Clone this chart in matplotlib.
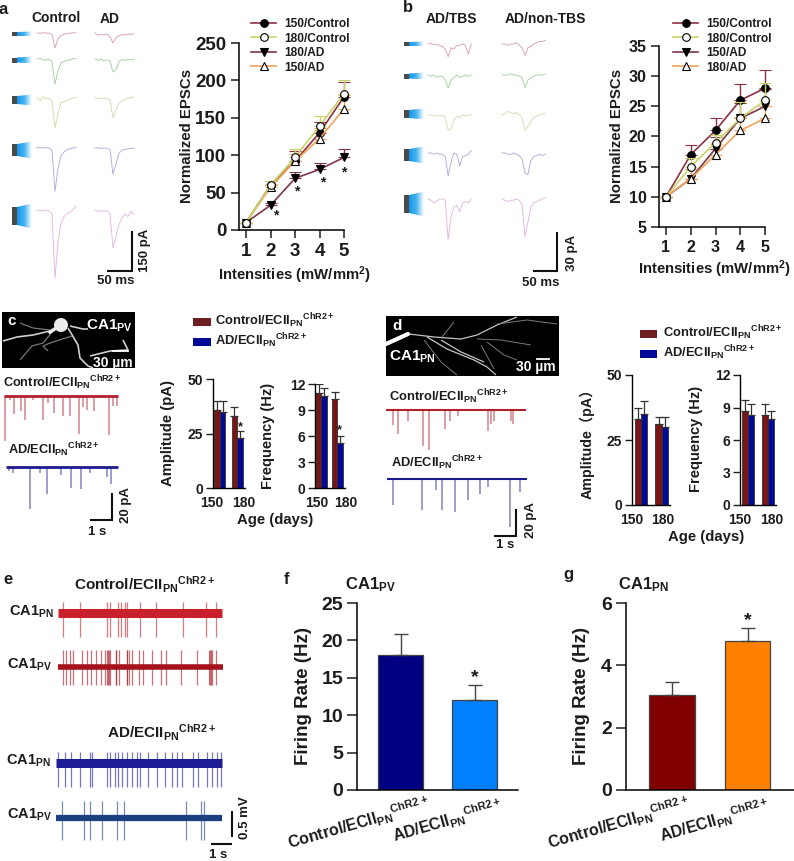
import numpy as np
import matplotlib
matplotlib.use("Agg")
import matplotlib.pyplot as plt
from matplotlib.collections import LineCollection
from matplotlib.colors import LinearSegmentedColormap
from matplotlib.lines import Line2D
from matplotlib.patches import Polygon, Rectangle
from matplotlib.transforms import Affine2D

plt.rcParams['font.family'] = ['Liberation Sans', 'DejaVu Sans']
plt.rcParams['font.weight'] = 'bold'
plt.rcParams['mathtext.fontset'] = 'custom'
plt.rcParams['mathtext.bf'] = 'Liberation Sans:bold'
plt.rcParams['mathtext.rm'] = 'Liberation Sans:bold'
plt.rcParams['mathtext.default'] = 'bf'

W, H = 794, 861
TXT = '#1c1c1c'

# === Line plots (a, b) ===
intensities = [1, 2, 3, 4, 5]
a_labels = ['150/Control', '180/Control', '180/AD', '150/AD']
a_150_control = [10, 60, 92, 130, 178]
a_150_control_err = [0, 5, 13, 15, 20]
a_180_control = [10, 60, 97, 139, 182]
a_180_control_err = [0, 6, 11, 13, 19]
a_180_ad = [10, 33, 69, 81, 97]
a_180_ad_err = [0, 3, 8, 9, 11]
a_150_ad = [10, 57, 92, 122, 162]
a_150_ad_err = [0, 5, 10, 14, 19]

b_labels = ['150/Control', '180/Control', '150/AD', '180/AD']
b_150_control = [10, 17, 21, 26, 28]
b_150_control_err = [0, 1.6, 2.1, 2.7, 3.1]
b_180_control = [10, 15, 19, 23, 26]
b_180_control_err = [0, 1.5, 1.2, 2.8, 2.9]
b_150_ad = [10, 13, 18, 23, 25]
b_150_ad_err = [0, 1.6, 1.9, 2.6, 2.8]
b_180_ad = [10, 13, 17, 21, 23]
b_180_ad_err = [0, 1.6, 1.8, 2.2, 2.1]

# === Bar plots (c, d, f, g) ===
ages = ['150', '180']
c_amp_control = [36, 33]
c_amp_control_err = [4, 4]
c_amp_ad = [35, 23]
c_amp_ad_err = [5, 3]
c_freq_control = [11, 10.3]
c_freq_control_err = [1, 0.8]
c_freq_ad = [10.6, 5.2]
c_freq_ad_err = [0.9, 0.8]

d_amp_control = [33, 31]
d_amp_control_err = [4.5, 3]
d_amp_ad = [35, 30]
d_amp_ad_err = [5, 4]
d_freq_control = [8.7, 8.3]
d_freq_control_err = [1, 1]
d_freq_ad = [8.3, 7.9]
d_freq_ad_err = [1, 0.8]

f_rate = [18.1, 12.0]
f_rate_err = [2.7, 2.1]
g_rate = [3.05, 4.78]
g_rate_err = [0.4, 0.42]

# === EPSC traces in pA, sampled every 6 ms ===
a_ctrl_1 = [0, -1, 1, 0, -1, -6, -57, -22, -10, -5, -2, -1, 1, 1]
a_ctrl_2 = [0, 3, -3, -4, -1, -10, -95, -45, -15, -10, -5, -4, 1, 2]
a_ctrl_3 = [0, -10, 4, -2, -1, -12, -114, -60, -18, -14, -8, -4, 0, 4]
a_ctrl_4 = [0, 2, 0, 1, 0, -8, -165, -80, -30, -15, -6, -3, 0, 2]
a_ctrl_5 = [0, -4, -2, 0, -3, -15, -260, -120, -50, -25, -15, -8, 0, 15]
a_ad_1 = [0, -8, -5, -8, -4, -15, -38, -18, -10, -6, -8, -4, -6, -2]
a_ad_2 = [0, -5, 0, -8, -3, -8, -50, -40, -10, -3, -5, -2, -3, 0]
a_ad_3 = [0, -2, 0, -1, -3, -8, -76, -45, -20, -10, -6, -2, 2, 4]
a_ad_4 = [0, 1, -2, 0, -1, -6, -100, -60, -20, -8, -6, -3, -2, 0]
a_ad_5 = [0, -6, -2, -5, -3, -15, -145, -100, -55, -30, -15, -25, -5, -15]

b_tbs_1 = [0, 0.5, -0.5, -0.5, -1, -2, -4, -10, -3, -4, -1, -1, 0, -1, -8, 0]
b_tbs_2 = [0, -1, 0, -2, -1, -1, -4, -10, -4, -2, 0, -2, -1, 0, -1, 0]
b_tbs_3 = [0, 0, -1, 0, -1, 0, -2, -12, -11, -4, -1, -2, 0, -1, 0, 0]
b_tbs_4 = [0, 0, -1, 0, -1, -1, -3, -18, -7, 0, -1, -10, -3, -2, -1, 2]
b_tbs_5 = [0, -1, -3, -2, 0, 0, -1, -32, -14, -6, -5, -10, -3, -2, -3, 0]
b_non_1 = [0, 0, -1, 0, 0, 1, -1, -3, -9, -3, -2, 0, 1, 2, 2, 3]
b_non_2 = [0, 0, 0, 1, 0, 0, -1, -2, -10, -4, -2, -1, 0, 0, 0, 1]
b_non_3 = [0, 1, 3, 2, 1, 2, 0, -2, -12, -9, -5, -2, -1, 0, 1, 1]
b_non_4 = [0, 0, -1, -1, 0, -1, -2, -5, -16, -17, -6, -3, -2, -1, -2, -1]
b_non_5 = [0, -1, -2, -1, -1, 0, -1, -5, -30, -18, -7, -3, -2, -1, 0, 1]

# === Spontaneous events: time (s), depth (pA) ===
c_ctrl_t = [0.05, 0.3, 0.48, 0.81, 1.0, 1.4, 1.84, 2.1, 2.4, 2.8, 3.15, 3.57, 3.75, 3.95, 4.3, 5.0, 5.2, 5.4]
c_ctrl_d = [32, 3, 13, 11, 17, 3, 17, 5, 12, 14, 14, 27, 8, 10, 11, 28, 7, 7]
c_ad_t = [0.15, 0.35, 1.15, 1.6, 1.97, 2.6, 3.1, 3.57, 4.0, 4.8, 5.0]
c_ad_d = [3, 4, 30, 4, 19, 6, 15, 16, 4, 7, 12]
d_ctrl_t = [0.32, 0.59, 1.06, 1.75, 2.03, 2.81, 3.05, 3.44, 4.87, 5.0, 5.16, 5.94, 6.03]
d_ctrl_d = [12, 19, 9, 29, 32, 15, 9, 5, 17, 11, 9, 9, 11]
d_ad_t = [0.29, 1.67, 2.33, 2.62, 3.24, 3.84, 4.41, 4.79, 5.87, 6.35]
d_ad_d = [21, 25, 9, 25, 26, 17, 12, 6, 38, 10]

# === Extracellular spikes: time (s) ===
e_ctrl_pn_t = [0.24, 1.03, 2.33, 2.49, 2.86, 3.0, 3.17, 3.3, 3.89, 4.68, 5.95, 7.06, 7.54]
e_ctrl_pv_t = [0.25, 0.4, 0.56, 0.71, 1.13, 1.37, 1.56, 1.79, 2.03, 2.22, 2.35, 2.38, 2.43, 2.47, 2.75, 2.78,
               2.9, 3.27, 3.3, 3.38, 3.54, 3.86, 4.06, 4.49, 4.89, 5.13, 5.87, 6.6, 7.19, 7.25, 7.3, 7.33, 7.51]
e_ad_pn_t = [0.11, 0.43, 0.7, 1.14, 1.62, 1.7, 2.41, 2.57, 2.81, 2.97, 3.13, 3.37, 3.6, 3.84,
             4.0, 4.4, 4.79, 5.19, 5.51, 5.75, 5.98, 6.54, 6.78, 7.17, 7.41, 7.65, 7.84]
e_ad_pv_t = [0.27, 1.33, 1.62, 2.17, 2.92, 3.24, 6.19, 6.9, 7.05]

# === Blue light wedges ===
wedge_half = [2, 2.5, 4, 6, 9]
wedge_flare = [2.5, 3.5, 5.5, 8.5, 12.5]

row_colors = ['#d9a0ac', '#a6cfa2', '#d3dcae', '#aeaadd', '#e2b8e2']
RED_BAR = '#7b1414'
BLUE_BAR = '#000a96'

fig = plt.figure(figsize=(W / 100, H / 100), dpi=100, facecolor='white')
deco = fig.add_axes([0, 0, 1, 1], zorder=5)
deco.set_xlim(0, W)
deco.set_ylim(H, 0)
deco.axis('off')
deco.patch.set_alpha(0)
wedge_cmap = LinearSegmentedColormap.from_list('light', ['#1595ea', '#49b4f0', '#ffffff'])


def px_axes(left, top, right, bottom):
    return fig.add_axes([left / W, 1 - bottom / H, (right - left) / W, (bottom - top) / H])


def label(x, y, s, size=10, rotation=0, ha='center', va='center', color=TXT, family=None):
    t = deco.text(x, y, s, fontsize=size, rotation=rotation, ha=ha, va=va, color=color,
                  fontweight='bold', rotation_mode='anchor' if rotation and ha == 'right' else 'default')
    if family:
        t.set_family(family)


def scale_bar(x0, x1, y0, y1, gap=0):
    deco.plot([x0, x1], [y1, y1], color='#111111', lw=1.5, solid_capstyle='butt')
    deco.plot([x1, x1], [y0, y1 - gap], color='#111111', lw=1.5, solid_capstyle='projecting')


def style_axis(ax, lw=1.1):
    ax.spines['top'].set_visible(False)
    ax.spines['right'].set_visible(False)
    ax.spines['left'].set_linewidth(lw)
    ax.spines['bottom'].set_linewidth(lw)
    ax.patch.set_alpha(0)


def draw_epsc(values, x0, y0, px_per_ms, px_per_pa, color):
    t = np.arange(len(values)) * 6
    tr = Affine2D().scale(px_per_ms, -px_per_pa).translate(x0, y0) + deco.transData
    deco.plot(t, values, color=color, lw=0.65, transform=tr, solid_joinstyle='round')


def draw_wedge(x, y, half, flare, block):
    deco.add_patch(Rectangle((x, y - half), block - x, 2 * half, color='#4a4a4a', lw=0))
    grad = np.linspace(0, 1, 64).reshape(1, -1)
    im = deco.imshow(grad, extent=(block, block + 15, y + flare, y - flare), aspect='auto',
                     cmap=wedge_cmap, zorder=2)
    clip = Polygon([(block, y - half), (block + 15, y - flare), (block + 15, y + flare), (block, y + half)],
                   transform=deco.transData, fc='none', ec='none')
    deco.add_patch(clip)
    im.set_clip_path(clip)


def line_panel(ax, series, labels, yticks, ylim, legend_xy, tick_size):
    for values, err, color, marker, face in series:
        ax.errorbar(intensities, values, yerr=[np.zeros(5), err], color=color, lw=1.2, capsize=4,
                    capthick=1.0, elinewidth=1.0, marker=marker, ms=5.5, mfc=face, mec='black',
                    mew=0.8, clip_on=False, zorder=5 if (marker == 'o' and face == 'white') else 3)
    ax.set_ylim(*ylim)
    ax.set_yticks(yticks)
    ax.set_xticks(intensities)
    ax.tick_params(axis='both', labelsize=tick_size, width=1.1, length=6, pad=3, colors=TXT)
    style_axis(ax)
    handles = [Line2D([], [], color=s[2], marker=s[3], mfc=s[4], mec='black', mew=0.8, ms=5.5, lw=1.2)
               for s in series]
    fig.legend(handles, labels, loc='upper left', frameon=False, fontsize=8.6, handlelength=2.1,
               handletextpad=0.67, labelspacing=0.21, borderpad=0, borderaxespad=0,
               bbox_to_anchor=(legend_xy[0] / W, 1 - legend_xy[1] / H), labelcolor=TXT)


def pair_bars(ax, ctrl, ctrl_err, ad, ad_err, ymax, yticks, width, xlim, label_pos):
    x = np.arange(2)
    for off, vals, err, col in [(-width / 2, ctrl, ctrl_err, RED_BAR), (width / 2, ad, ad_err, BLUE_BAR)]:
        ax.bar(x + off, vals, width, color=col, edgecolor='#333333', lw=0.6)
        ax.errorbar(x + off, vals, yerr=[np.zeros(2), err], fmt='none', ecolor='#333333',
                    elinewidth=0.9, capsize=3, capthick=0.9)
    ax.set_xlim(*xlim)
    ax.set_ylim(0, ymax)
    ax.set_yticks(yticks)
    ax.set_xticks([])
    for pos, age in zip(label_pos, ages):
        ax.annotate(age, xy=(pos, 0), xytext=(0, -5.5), textcoords='offset points', ha='center',
                    va='top', fontsize=10, color=TXT, annotation_clip=False)
    ax.tick_params(axis='y', labelsize=10, width=1.0, length=5, pad=2, colors=TXT)
    style_axis(ax, 1.0)


def single_bars(ax, vals, err, colors, ymax, yticks, xlim):
    ax.bar([0, 1], vals, 0.6, color=colors, edgecolor='#444444', lw=0.9)
    ax.errorbar([0, 1], vals, yerr=[np.zeros(2), err], fmt='none', ecolor='#444444',
                elinewidth=1.0, capsize=5, capthick=1.0)
    ax.set_xlim(*xlim)
    ax.set_ylim(0, ymax)
    ax.set_yticks(yticks)
    ax.set_xticks([])
    ax.tick_params(axis='y', labelsize=14, width=1.1, length=7, pad=3, colors=TXT)
    style_axis(ax)


def draw_events(times, depths, x0, y0, px_per_s, px_per_pa, color, length, lw_base=2.0, alpha=0.55):
    tr = Affine2D().scale(px_per_s, -px_per_pa).translate(x0, y0) + deco.transData
    deco.vlines(times, np.negative(depths), 0, color=color, lw=1.1, alpha=alpha, transform=tr)
    deco.plot([0, length], [0, 0], color=color, lw=lw_base, transform=tr, solid_capstyle='butt')


def draw_spikes(times, up, down, x0, y0, length, color, alpha=0.6, base=3.2):
    tr = Affine2D().scale(21, -1).translate(x0, y0) + deco.transData
    deco.vlines(times, -down, up, color=color, lw=0.9, alpha=alpha, transform=tr)
    deco.plot([0, length], [0, 0], color=color, lw=base, transform=tr, solid_capstyle='butt')


# --- panel a ---
label(3, 9, 'a', 12)
label(56, 18, 'Control', 10)
label(110, 19, 'AD', 10)
a_rows_y = [33, 59, 98, 148, 210]
a_wedge_y = [34, 60, 100, 150, 216]
a_ctrl = [a_ctrl_1, a_ctrl_2, a_ctrl_3, a_ctrl_4, a_ctrl_5]
a_ad = [a_ad_1, a_ad_2, a_ad_3, a_ad_4, a_ad_5]
for i, y in enumerate(a_rows_y):
    draw_epsc(a_ctrl[i], 37, y, 0.5, 0.262, row_colors[i])
    draw_epsc(a_ad[i], 95, y, 0.5, 0.262, row_colors[i])
    draw_wedge(12, a_wedge_y[i], wedge_half[i], wedge_flare[i], 17)
scale_bar(107, 132, 232, 271)
label(116, 281, '50 ms', 9.5)
label(145, 250, '150 pA', 9.5, rotation=90)

ax_a = px_axes(239, 43, 344, 230)
line_panel(ax_a, [
    (a_150_control, a_150_control_err, '#8c3040', 'o', 'black'),
    (a_180_control, a_180_control_err, '#c9d36a', 'o', 'white'),
    (a_180_ad, a_180_ad_err, '#7d3644', 'v', 'black'),
    (a_150_ad, a_150_ad_err, '#f0a35a', '^', 'white'),
], a_labels, [0, 50, 100, 150, 200, 250], (0, 250), (251, 18), 13.5)
ax_a.set_xlim(1 - 7 / 24.5, 5)
for xv, yv in zip([2.2, 3.07, 4.13, 5], [20, 52, 63, 77]):
    ax_a.text(xv, yv, '*', ha='center', va='center', fontsize=10, color=TXT)
label(187, 136, 'Normalized EPSCs', 10.8, rotation=90)
label(295, 275, 'Intensities (mW/mm$^{2}$)', 10.7)

# --- panel b ---
label(408, 8, 'b', 12)
label(451, 19, 'AD/TBS', 10)
label(545, 19, 'AD/non-TBS', 10)
b_rows_y = [44, 75, 115, 153, 199]
b_wedge_y = [44, 76, 114, 155, 204]
b_tbs = [b_tbs_1, b_tbs_2, b_tbs_3, b_tbs_4, b_tbs_5]
b_non = [b_non_1, b_non_2, b_non_3, b_non_4, b_non_5]
for i, y in enumerate(b_rows_y):
    draw_epsc(b_tbs[i], 428, y, 0.48, 1.27, row_colors[i])
    draw_epsc(b_non[i], 502, y, 0.48, 1.27, row_colors[i])
    draw_wedge(404, b_wedge_y[i], wedge_half[i], wedge_flare[i], 409)
scale_bar(533, 557, 233, 271)
label(541, 283, '50 ms', 9.5)
label(572, 253, '30 pA', 9.5, rotation=90)

ax_b = px_axes(659, 46, 765, 227)
line_panel(ax_b, [
    (b_150_control, b_150_control_err, '#8c3040', 'o', 'black'),
    (b_180_control, b_180_control_err, '#c9d36a', 'o', 'white'),
    (b_150_ad, b_150_ad_err, '#7d3644', 'v', 'black'),
    (b_180_ad, b_180_ad_err, '#f0a35a', '^', 'white'),
], b_labels, [5, 10, 15, 20, 25, 30, 35], (5, 35), (673, 18), 11.5)
ax_b.set_xlim(1 - 7 / 24.75, 5)
label(617, 136, 'Normalized EPSCs', 10.8, rotation=90)
label(715, 269, 'Intensities (mW/mm$^{2}$)', 10.7)

# --- panel c ---
deco.add_patch(Rectangle((2, 312), 133, 56, color='black', lw=0))
c_dendrites = [
    [(50, 331), (33, 335), (17, 337), (3, 341)],
    [(68, 328), (78, 345), (80, 358), (88, 366), (93, 368)],
    [(70, 326), (83, 329), (88, 329)],
    [(90, 356), (110, 351), (128, 350), (123, 340)],
]
c_dim_dendrites = [
    [(53, 331), (43, 343), (32, 346), (20, 360)],
    [(72, 336), (50, 343), (43, 346), (48, 351)],
    [(50, 330), (33, 328), (20, 323)],
]
deco.add_collection(LineCollection(c_dendrites, colors='#cfcfcf', linewidths=1.2))
deco.add_collection(LineCollection(c_dim_dendrites, colors='#777777', linewidths=0.9))
deco.add_patch(plt.Circle((61, 325), 7, color='#ececec', lw=0))
deco.plot([50, 58], [332, 327], color='#ececec', lw=2.5)
label(7, 321, 'c', 11, color='white', ha='left')
label(109, 326, 'CA1$_{PV}$', 11, color='white')
label(113, 363, '30 \u00b5m', 10, color='white')
deco.plot([113, 128], [351, 351], color='white', lw=1.3)
label(3, 383, 'Control/ECII$_{PN}{}^{ChR2+}$', 9.2, ha='left')
label(8, 450, 'AD/ECII$_{PN}{}^{ChR2+}$', 9.2, ha='left')
draw_events(c_ctrl_t, c_ctrl_d, 4, 396, 21, 1.4, '#b2202e', 5.45)
draw_events(c_ad_t, c_ad_d, 6, 467, 21, 1.4, '#1b1b8f', 5.35)
scale_bar(90, 112, 494, 520)
label(97, 532, '1 s', 9.5)
label(126, 505, '20 pA', 9.5, rotation=90)
deco.add_patch(Rectangle((193, 318), 18, 8, color='#6e1f22', lw=0))
deco.add_patch(Rectangle((193, 338), 18, 8, color=BLUE_BAR, lw=0))
label(215, 321, 'Control/ECII$_{PN}{}^{ChR2+}$', 9.3, ha='left')
label(215, 341, 'AD/ECII$_{PN}{}^{ChR2+}$', 9.3, ha='left')

ax_c1 = px_axes(213, 379, 245, 488)
pair_bars(ax_c1, c_amp_control, c_amp_control_err, c_amp_ad, c_amp_ad_err, 50, [0, 25, 50], 0.32,
          (-0.4, 1.45), [-0.46, 1.39])
ax_c1.text(1.16, 28, '*', ha='center', va='center', fontsize=9, color=TXT)
ax_c2 = px_axes(315, 384, 345, 488)
pair_bars(ax_c2, c_freq_control, c_freq_control_err, c_freq_ad, c_freq_ad_err, 12, [0, 3, 6, 9, 12], 0.33,
          (-0.39, 1.48), [-0.27, 1.54])
ax_c2.text(1.16, 6.7, '*', ha='center', va='center', fontsize=9, color=TXT)
label(168, 433, 'Amplitude (pA)', 10.7, rotation=90)
label(268, 436, 'Frequency (Hz)', 10.5, rotation=90)
label(275, 520, 'Age (days)', 10.7)

# --- panel d ---
deco.add_patch(Rectangle((386, 316), 173, 60, color='black', lw=0))
d_dendrites = [
    [(409, 334), (434, 337), (461, 339), (477, 335), (497, 325), (517, 317)],
    [(427, 337), (447, 349), (474, 360), (487, 367), (496, 375)],
    [(441, 340), (461, 352), (484, 362)],
]
d_dim_dendrites = [
    [(442, 337), (454, 322)],
    [(477, 339), (501, 340), (531, 345)],
    [(487, 342), (504, 355), (517, 360)],
    [(424, 340), (441, 362), (457, 375)],
    [(497, 324), (527, 320), (557, 324)],
    [(481, 345), (494, 369)],
]
deco.add_collection(LineCollection(d_dendrites, colors='#c4c4c4', linewidths=0.9))
deco.add_collection(LineCollection(d_dim_dendrites, colors='#7a7a7a', linewidths=0.7))
deco.plot([386, 408], [344, 334], color='white', lw=3, solid_capstyle='round')
label(392, 326, 'd', 11, color='white', ha='left')
label(412, 357, 'CA1$_{PN}$', 11, color='white')
label(536, 367, '30 \u00b5m', 10, color='white')
deco.plot([537, 549], [359, 359], color='white', lw=1.3)
label(389, 397, 'Control/ECII$_{PN}{}^{ChR2+}$', 9.3, ha='left')
label(391, 463, 'AD/ECII$_{PN}{}^{ChR2+}$', 9.3, ha='left')
draw_events(d_ctrl_t, d_ctrl_d, 386, 410, 21, 1.25, '#b2202e', 6.65, lw_base=1.5)
draw_events(d_ad_t, d_ad_d, 387, 479, 21, 1.25, '#1b1b8f', 6.65, lw_base=1.5)
scale_bar(494, 516, 510, 536)
label(505, 545, '1 s', 9.5)
label(531, 520, '20 pA', 9.5, rotation=90)
deco.add_patch(Rectangle((640, 330), 17, 8, color='#6e1f22', lw=0))
deco.add_patch(Rectangle((640, 350), 17, 8, color=BLUE_BAR, lw=0))
label(663, 333, 'Control/ECII$_{PN}{}^{ChR2+}$', 9.3, ha='left')
label(663, 353, 'AD/ECII$_{PN}{}^{ChR2+}$', 9.3, ha='left')

ax_d1 = px_axes(632, 375, 670, 505)
pair_bars(ax_d1, d_amp_control, d_amp_control_err, d_amp_ad, d_amp_ad_err, 50, [0, 25, 50], 0.305,
          (-0.43, 1.4), [-0.43, 1.06])
ax_d2 = px_axes(740, 375, 776, 505)
pair_bars(ax_d2, d_freq_control, d_freq_control_err, d_freq_ad, d_freq_ad_err, 12, [0, 3, 6, 9, 12], 0.31,
          (-0.42, 1.4), [-0.42, 1.2])
label(587, 440, 'Amplitude\uff08pA\uff09', 10.3, rotation=90, family=['Liberation Sans', 'Noto Sans CJK SC'])
label(696, 439, 'Frequency (Hz)', 10.5, rotation=90)
label(706, 537, 'Age (days)', 10.7)

# --- panel e ---
label(8, 579, 'e', 12)
label(145, 585, 'Control/ECII$_{PN}{}^{ChR2+}$', 11)
label(162, 733, 'AD/ECII$_{PN}{}^{ChR2+}$', 11)
label(31, 612, 'CA1$_{PN}$', 10.5)
label(29, 665, 'CA1$_{PV}$', 10.5)
label(28, 761, 'CA1$_{PN}$', 10.5)
label(29, 815, 'CA1$_{PV}$', 10.5)
draw_spikes(e_ctrl_pn_t, 11, 24, 58, 613, 7.8, '#c8202c', base=6.5)
draw_spikes(e_ctrl_pv_t, 17, 18, 58, 667, 7.85, '#a5121c', base=4)
draw_spikes(e_ad_pn_t, 11, 24, 56, 763, 7.9, '#1c1c96', base=6.5)
draw_spikes(e_ad_pv_t, 17, 22, 56, 818, 7.9, '#1c3f80', base=4.5)
scale_bar(211, 232, 812, 844, gap=8)
label(218, 855, '1 s', 9.5)
label(245, 818, '0.5 mV', 9.5, rotation=90)

# --- panel f, g ---
label(287, 579, 'f', 12)
label(370, 585, 'CA1$_{PV}$', 12)
ax_f = px_axes(357, 603, 518, 790)
single_bars(ax_f, f_rate, f_rate_err, ['#000080', '#0080ff'], 25, [0, 5, 10, 15, 20, 25],
            ((357 - 400.5) / 74, (518 - 400.5) / 74))
ax_f.text(1, 15, '*', ha='center', va='center', fontsize=14, color=TXT)
label(303, 696, 'Firing Rate (Hz)', 13.5, rotation=90)
label(427, 793, 'Control/ECII$_{PN}{}^{ChR2+}$', 11.4, rotation=16, ha='right', va='top')
label(500, 795, 'AD/ECII$_{PN}{}^{ChR2+}$', 11.4, rotation=16, ha='right', va='top')

label(568, 575, 'g', 12)
label(643, 585, 'CA1$_{PN}$', 12)
ax_g = px_axes(626, 603, 794, 790)
single_bars(ax_g, g_rate, g_rate_err, ['#800000', '#ff8000'], 6, [0, 2, 4, 6],
            ((626 - 672) / 75.5, (794 - 672) / 75.5))
ax_g.text(1, 5.42, '*', ha='center', va='center', fontsize=14, color=TXT)
label(581, 696, 'Firing Rate (Hz)', 13.5, rotation=90)
label(687, 793, 'Control/ECII$_{PN}{}^{ChR2+}$', 11.4, rotation=16, ha='right', va='top')
label(767, 795, 'AD/ECII$_{PN}{}^{ChR2+}$', 11.4, rotation=16, ha='right', va='top')

deco.set_xlim(0, W)
deco.set_ylim(H, 0)
fig.savefig('out.png', dpi=100)
